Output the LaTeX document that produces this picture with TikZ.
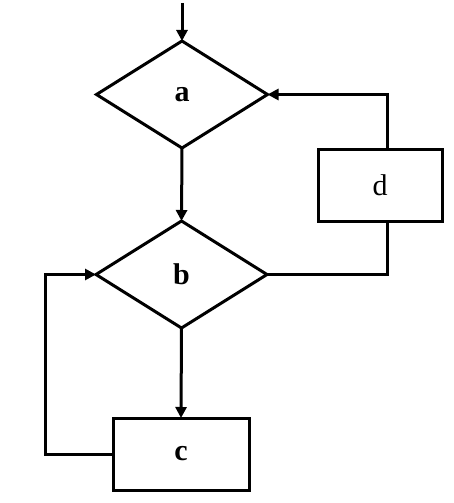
\documentclass[tikz,border=0pt]{standalone}
\usepackage{fontspec}
\setmainfont{Liberation Serif}
\usetikzlibrary{shapes.geometric,arrows.meta}
\newcommand{\lblsize}{\fontsize{30}{30}\selectfont}
\begin{document}
\begin{tikzpicture}[x=1pt,y=-1pt,
  line width=3pt, line join=miter,
  every node/.style={inner sep=0pt, outer sep=0pt},
  decision/.style={draw, diamond, minimum width=171pt, minimum height=107pt},
  process/.style={draw, rectangle, minimum height=72pt},
  flow/.style={-{Triangle[length=11pt,width=11pt]}}]
  \useasboundingbox (0,0) rectangle (453,503);

  % decisions
  \node[decision] (a) at (182,94.5) {\lblsize\bfseries a};
  \node[decision] (b) at (181.5,274.5) {\lblsize\bfseries b};
  % processes
  \node[process, minimum width=136pt] (c) at (181,454) {\lblsize\bfseries c};
  \node[process, minimum width=124pt] (d) at (380,185) {\lblsize d};

  % entry arrow
  \coordinate (start) at (182,3);
  \draw[flow] (start) -- (a.north);

  % main flow
  \draw[flow] (a.south) -- (b.north);
  \draw[flow] (b.south) -- (c.north);

  % loop from c back to b
  \coordinate (cl) at (45,454);
  \draw[flow] (c.west) -- (cl) |- (b.west);

  % loop through d back to a
  \draw[flow] ([xshift=7pt]d.north) |- (a.east);
  \draw ([xshift=7pt]d.south) |- (b.east);
\end{tikzpicture}
\end{document}
